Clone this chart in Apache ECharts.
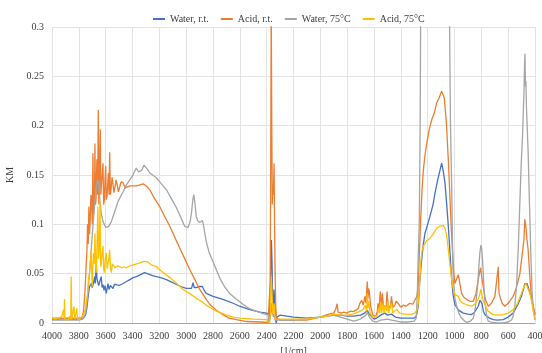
<!DOCTYPE html>
<html>
<head>
<meta charset="utf-8">
<script src="https://cdn.jsdelivr.net/npm/echarts@6/dist/echarts.min.js"></script>
<style>
  html, body { margin: 0; padding: 0; background: #fff; }
  #chart { width: 542px; height: 353px; }
</style>
</head>
<body>
<div id="chart"></div>
<script>
// [wavenumber (1/cm), KM]
const waterRT = [[4000,0.004],[3950,0.004],[3900,0.0045],[3850,0.004],[3800,0.004],[3770,0.0045],[3760,0.005],[3750,0.008],[3740,0.015],[3733,0.024],[3725,0.033],[3720,0.037],[3712,0.035],[3708,0.04],[3700,0.036],[3695,0.034],[3688,0.042],[3683,0.047],[3677,0.04],[3670,0.061],[3665,0.045],[3658,0.047],[3652,0.038],[3645,0.037],[3640,0.044],[3633,0.047],[3627,0.036],[3620,0.039],[3612,0.033],[3605,0.038],[3595,0.030],[3588,0.036],[3583,0.040],[3575,0.034],[3565,0.038],[3558,0.037],[3545,0.035],[3535,0.039],[3520,0.039],[3500,0.038],[3470,0.04],[3445,0.042],[3420,0.044],[3395,0.046],[3370,0.047],[3340,0.049],[3310,0.051],[3290,0.050],[3250,0.048],[3221,0.047],[3190,0.046],[3147,0.044],[3100,0.041],[3073,0.039],[3040,0.037],[3000,0.035],[2960,0.035],[2949,0.041],[2940,0.036],[2920,0.036],[2895,0.037],[2880,0.037],[2865,0.033],[2850,0.030],[2800,0.027],[2726,0.024],[2650,0.020],[2602,0.017],[2527,0.0135],[2450,0.011],[2400,0.010],[2385,0.009],[2380,0.0],[2374,0.0],[2370,0.05],[2365,0.084],[2360,0.062],[2354,0.012],[2349,0.02],[2345,0.034],[2340,0.02],[2334,0.003],[2328,0.0],[2322,0.006],[2300,0.008],[2250,0.007],[2200,0.006],[2100,0.005],[2000,0.006],[1950,0.007],[1900,0.008],[1850,0.008],[1800,0.007],[1750,0.007],[1700,0.008],[1670,0.01],[1650,0.013],[1635,0.009],[1600,0.004],[1580,0.005],[1550,0.008],[1520,0.01],[1500,0.008],[1470,0.009],[1440,0.006],[1400,0.005],[1350,0.005],[1300,0.005],[1285,0.0068],[1270,0.017],[1260,0.04],[1245,0.064],[1232,0.08],[1220,0.091],[1200,0.1],[1183,0.108],[1160,0.12],[1145,0.132],[1125,0.145],[1108,0.155],[1096,0.162],[1085,0.155],[1071,0.142],[1058,0.12],[1046,0.098],[1033,0.07],[1021,0.044],[1010,0.028],[997,0.0186],[970,0.013],[935,0.01],[900,0.009],[873,0.0085],[850,0.011],[823,0.017],[810,0.023],[803,0.025],[795,0.02],[785,0.012],[773,0.0085],[740,0.005],[711,0.0034],[680,0.003],[637,0.0034],[600,0.006],[563,0.01],[530,0.018],[501,0.027],[485,0.035],[475,0.04],[468,0.042],[460,0.04],[450,0.036],[438,0.034],[425,0.025],[414,0.017],[400,0.008]];

const acidRT = [[4000,0.005],[3950,0.005],[3900,0.005],[3850,0.005],[3800,0.005],[3775,0.006],[3765,0.012],[3755,0.03],[3750,0.044],[3745,0.06],[3740,0.071],[3735,0.1],[3730,0.08],[3725,0.118],[3720,0.09],[3715,0.105],[3710,0.13],[3705,0.125],[3700,0.1],[3695,0.172],[3690,0.11],[3688,0.139],[3683,0.12],[3680,0.182],[3676,0.12],[3672,0.125],[3668,0.15],[3665,0.166],[3660,0.13],[3655,0.216],[3651,0.12],[3648,0.139],[3644,0.17],[3640,0.196],[3636,0.13],[3632,0.132],[3626,0.15],[3620,0.162],[3615,0.12],[3610,0.125],[3605,0.145],[3600,0.159],[3595,0.125],[3590,0.128],[3585,0.14],[3580,0.152],[3575,0.13],[3570,0.173],[3565,0.13],[3560,0.135],[3552,0.148],[3545,0.149],[3538,0.132],[3530,0.132],[3522,0.145],[3515,0.145],[3505,0.133],[3495,0.135],[3485,0.143],[3470,0.142],[3455,0.137],[3445,0.137],[3420,0.139],[3395,0.139],[3370,0.139],[3345,0.14],[3320,0.141],[3307,0.141],[3290,0.138],[3271,0.135],[3240,0.127],[3197,0.118],[3160,0.108],[3122,0.098],[3085,0.087],[3048,0.076],[3010,0.065],[2973,0.054],[2935,0.044],[2899,0.034],[2860,0.026],[2825,0.019],[2775,0.013],[2726,0.0085],[2680,0.005],[2626,0.0034],[2550,0.0015],[2450,0.001],[2390,0.0005],[2380,0.0],[2374,0.04],[2370,0.15],[2366,0.32],[2362,0.2],[2358,0.12],[2354,0.14],[2350,0.13],[2345,0.162],[2341,0.1],[2337,0.05],[2332,0.015],[2326,0.005],[2300,0.003],[2250,0.003],[2200,0.003],[2100,0.003],[2000,0.006],[1960,0.008],[1925,0.0094],[1900,0.01],[1885,0.014],[1875,0.0195],[1868,0.011],[1862,0.0128],[1845,0.01],[1825,0.011],[1804,0.01],[1775,0.012],[1754,0.0115],[1735,0.013],[1717,0.015],[1705,0.02],[1692,0.023],[1680,0.018],[1668,0.027],[1660,0.02],[1650,0.042],[1645,0.025],[1640,0.035],[1635,0.032],[1625,0.017],[1608,0.008],[1588,0.0065],[1575,0.012],[1570,0.02],[1562,0.015],[1553,0.032],[1545,0.015],[1538,0.03],[1530,0.018],[1520,0.02],[1510,0.015],[1503,0.032],[1495,0.018],[1488,0.02],[1478,0.015],[1470,0.027],[1460,0.016],[1445,0.018],[1435,0.022],[1420,0.02],[1400,0.016],[1383,0.018],[1360,0.017],[1333,0.02],[1310,0.019],[1296,0.023],[1280,0.027],[1271,0.037],[1262,0.07],[1252,0.105],[1242,0.135],[1232,0.155],[1220,0.17],[1207,0.182],[1190,0.195],[1170,0.206],[1150,0.213],[1133,0.223],[1115,0.228],[1096,0.235],[1086,0.233],[1076,0.228],[1068,0.215],[1059,0.2],[1046,0.165],[1034,0.128],[1024,0.095],[1014,0.071],[1005,0.05],[997,0.04],[985,0.042],[972,0.049],[960,0.04],[947,0.03],[930,0.026],[910,0.024],[885,0.022],[860,0.022],[840,0.03],[823,0.044],[806,0.056],[795,0.045],[786,0.037],[770,0.024],[749,0.017],[725,0.02],[699,0.027],[685,0.025],[674,0.057],[668,0.03],[662,0.027],[645,0.02],[625,0.017],[600,0.02],[563,0.027],[540,0.035],[513,0.05],[495,0.07],[483,0.084],[476,0.105],[468,0.098],[460,0.085],[451,0.074],[440,0.05],[426,0.024],[412,0.015],[400,0.01]];

const water75 = [[4000,0.003],[3900,0.003],[3800,0.003],[3770,0.004],[3750,0.01],[3740,0.02],[3730,0.035],[3720,0.051],[3710,0.07],[3695,0.098],[3683,0.118],[3670,0.139],[3660,0.145],[3652,0.14],[3645,0.128],[3633,0.111],[3620,0.103],[3613,0.101],[3600,0.097],[3590,0.096],[3578,0.098],[3570,0.1],[3560,0.102],[3545,0.108],[3525,0.116],[3508,0.123],[3490,0.128],[3470,0.133],[3445,0.14],[3420,0.145],[3400,0.149],[3383,0.154],[3372,0.157],[3365,0.158],[3355,0.153],[3345,0.152],[3330,0.155],[3315,0.16],[3305,0.159],[3290,0.156],[3270,0.152],[3250,0.15],[3221,0.147],[3190,0.142],[3147,0.135],[3110,0.126],[3073,0.117],[3040,0.107],[3011,0.098],[3000,0.096],[2985,0.097],[2970,0.103],[2960,0.112],[2950,0.125],[2943,0.13],[2935,0.122],[2925,0.108],[2912,0.103],[2895,0.102],[2880,0.104],[2872,0.1],[2860,0.09],[2849,0.082],[2830,0.072],[2800,0.062],[2775,0.054],[2748,0.045],[2710,0.036],[2676,0.03],[2625,0.024],[2577,0.019],[2527,0.0145],[2480,0.012],[2402,0.0085],[2386,0.008],[2380,0.0],[2374,0.0],[2368,0.01],[2364,0.02],[2358,0.012],[2350,0.006],[2344,0.009],[2336,0.003],[2300,0.003],[2200,0.003],[2100,0.004],[2000,0.006],[1950,0.007],[1900,0.008],[1850,0.006],[1800,0.004],[1750,0.002],[1700,0.004],[1660,0.008],[1650,0.011],[1635,0.006],[1610,0.002],[1580,0.001],[1550,0.003],[1500,0.004],[1470,0.003],[1430,0.002],[1400,0.001],[1350,0.001],[1300,0.002],[1285,0.005],[1277,0.03],[1270,0.07],[1262,0.105],[1256,0.2],[1252,0.32],[1240,0.5],[1140,0.6],[1050,0.5],[1038,0.32],[1030,0.2],[1021,0.139],[1015,0.08],[1009,0.044],[997,0.025],[984,0.017],[965,0.009],[947,0.005],[925,0.002],[910,0.0007],[880,0.002],[860,0.005],[845,0.015],[835,0.028],[828,0.037],[818,0.058],[811,0.071],[803,0.079],[797,0.075],[791,0.064],[782,0.04],[773,0.02],[760,0.007],[749,0.002],[720,0.0005],[680,0.0],[640,0.0],[600,0.001],[575,0.003],[563,0.007],[550,0.018],[538,0.037],[525,0.075],[513,0.122],[503,0.16],[493,0.189],[487,0.215],[483,0.23],[478,0.26],[475,0.273],[471,0.24],[468,0.245],[463,0.216],[457,0.195],[451,0.172],[445,0.14],[438,0.105],[430,0.065],[421,0.03],[412,0.012],[400,0.003]];

const acid75 = [[4000,0.005],[3990,0.006],[3975,0.004],[3960,0.005],[3945,0.005],[3935,0.003],[3925,0.007],[3915,0.0135],[3910,0.004],[3907,0.024],[3903,0.004],[3890,0.006],[3880,0.003],[3870,0.007],[3860,0.004],[3857,0.047],[3853,0.004],[3845,0.01],[3837,0.017],[3830,0.004],[3825,0.008],[3815,0.015],[3810,0.004],[3800,0.006],[3795,0.004],[3780,0.006],[3770,0.007],[3760,0.01],[3750,0.015],[3745,0.017],[3735,0.03],[3728,0.045],[3720,0.051],[3714,0.06],[3708,0.074],[3704,0.05],[3700,0.037],[3695,0.06],[3690,0.071],[3685,0.06],[3680,0.091],[3675,0.06],[3670,0.051],[3664,0.08],[3658,0.118],[3654,0.065],[3650,0.071],[3646,0.09],[3642,0.123],[3638,0.06],[3635,0.057],[3628,0.068],[3620,0.078],[3615,0.055],[3610,0.051],[3603,0.065],[3595,0.071],[3589,0.055],[3582,0.054],[3576,0.065],[3570,0.074],[3564,0.055],[3558,0.051],[3550,0.06],[3540,0.061],[3530,0.056],[3520,0.054],[3508,0.058],[3495,0.059],[3480,0.056],[3460,0.057],[3445,0.056],[3420,0.058],[3395,0.059],[3370,0.06],[3345,0.061],[3320,0.0625],[3307,0.0635],[3290,0.062],[3260,0.059],[3221,0.057],[3180,0.052],[3122,0.046],[3070,0.04],[3023,0.034],[2975,0.03],[2924,0.025],[2900,0.023],[2885,0.022],[2874,0.020],[2850,0.018],[2800,0.014],[2775,0.012],[2700,0.008],[2650,0.006],[2600,0.005],[2500,0.004],[2400,0.0035],[2386,0.003],[2380,0.0],[2374,0.005],[2370,0.03],[2365,0.047],[2360,0.03],[2354,0.01],[2349,0.012],[2345,0.02],[2340,0.01],[2334,0.004],[2300,0.004],[2250,0.004],[2200,0.004],[2100,0.004],[2000,0.006],[1950,0.007],[1900,0.009],[1850,0.008],[1800,0.008],[1760,0.009],[1720,0.011],[1700,0.012],[1680,0.014],[1665,0.018],[1655,0.012],[1650,0.03],[1645,0.015],[1638,0.022],[1628,0.01],[1610,0.006],[1590,0.006],[1575,0.008],[1565,0.015],[1558,0.01],[1550,0.022],[1543,0.01],[1535,0.02],[1525,0.01],[1515,0.018],[1505,0.012],[1498,0.022],[1490,0.01],[1480,0.015],[1470,0.02],[1460,0.01],[1445,0.012],[1430,0.014],[1410,0.01],[1380,0.009],[1350,0.009],[1320,0.009],[1295,0.01],[1280,0.013],[1270,0.02],[1260,0.04],[1250,0.064],[1240,0.075],[1227,0.079],[1210,0.083],[1183,0.086],[1160,0.09],[1133,0.096],[1110,0.098],[1096,0.1],[1085,0.099],[1071,0.096],[1058,0.088],[1046,0.074],[1033,0.058],[1021,0.044],[1010,0.035],[997,0.029],[985,0.027],[972,0.027],[955,0.022],[935,0.02],[900,0.018],[873,0.017],[850,0.019],[823,0.024],[810,0.03],[803,0.034],[795,0.028],[785,0.022],[773,0.0186],[750,0.012],[711,0.0085],[670,0.008],[637,0.0085],[600,0.01],[563,0.0135],[530,0.02],[501,0.03],[485,0.036],[475,0.038],[468,0.04],[460,0.038],[450,0.034],[438,0.03],[425,0.022],[412,0.012],[400,0.005]];

const seriesNames = ["Water, r.t.", "Acid, r.t.", "Water, 75°C", "Acid, 75°C"];
const seriesColors = ["#4472C4", "#ED7D31", "#A5A5A5", "#FFC000"];

const chart = echarts.init(document.getElementById("chart"));
const font = "Liberation Serif";

const makeLine = (name, data, color) => ({
  name,
  type: "line",
  data,
  showSymbol: false,
  symbol: "none",
  clip: true,
  lineStyle: { color, width: 1.3 },
  itemStyle: { color },
  emphasis: { disabled: true },
  animation: false
});

const option = {
  animation: false,
  legend: {
    top: 9,
    left: 148,
    itemWidth: 12,
    itemHeight: 2,
    itemGap: 12,
    icon: "rect",
    textStyle: { fontFamily: font, fontSize: 10, color: "#404040" },
    data: seriesNames
  },
  grid: { left: 52, right: 7, top: 27, bottom: 30, outerBoundsMode: "none" },
  xAxis: {
    type: "value",
    inverse: true,
    min: 400,
    max: 4000,
    interval: 200,
    name: "[1/cm]",
    nameLocation: "middle",
    nameGap: 20,
    nameTextStyle: { fontFamily: font, fontSize: 10, color: "#404040" },
    axisLine: { show: true, lineStyle: { color: "#a6a6a6" } },
    axisTick: { show: false },
    axisLabel: {
      fontFamily: font, fontSize: 10, color: "#404040", margin: 8,
      formatter: v => String(v)
    },
    splitLine: { show: true, lineStyle: { color: "#e3e3e3" } }
  },
  yAxis: {
    type: "value",
    min: 0,
    max: 0.3,
    interval: 0.05,
    name: "KM",
    nameLocation: "middle",
    nameGap: 28,
    nameTextStyle: { fontFamily: font, fontSize: 10, color: "#404040" },
    axisLine: { show: false },
    axisTick: { show: false },
    axisLabel: { fontFamily: font, fontSize: 10, color: "#404040", margin: 8 },
    splitLine: { show: true, lineStyle: { color: "#e3e3e3" } }
  },
  series: [
    makeLine(seriesNames[0], waterRT, seriesColors[0]),
    makeLine(seriesNames[1], acidRT, seriesColors[1]),
    makeLine(seriesNames[2], water75, seriesColors[2]),
    makeLine(seriesNames[3], acid75, seriesColors[3])
  ]
};

chart.setOption(option);
</script>
</body>
</html>
